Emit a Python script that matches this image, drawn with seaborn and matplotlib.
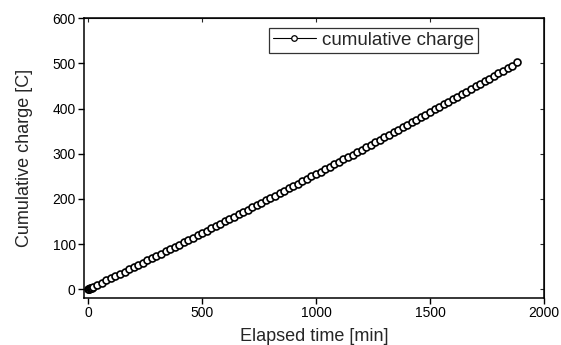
import matplotlib
matplotlib.use("Agg")
import matplotlib.pyplot as plt
import seaborn as sns
import pandas as pd

elapsed_min = [0, 2, 5, 8, 12, 15,
               20, 40, 60, 80, 100, 120, 140, 160, 180, 200,
               220, 240, 260, 280, 300, 320, 340, 360, 380, 400,
               420, 440, 460, 480, 500, 520, 540, 560, 580, 600,
               620, 640, 660, 680, 700, 720, 740, 760, 780, 800,
               820, 840, 860, 880, 900, 920, 940, 960, 980, 1000,
               1020, 1040, 1060, 1080, 1100, 1120, 1140, 1160, 1180, 1200,
               1220, 1240, 1260, 1280, 1300, 1320, 1340, 1360, 1380, 1400,
               1420, 1440, 1460, 1480, 1500, 1520, 1540, 1560, 1580, 1600,
               1620, 1640, 1660, 1680, 1700, 1720, 1740, 1760, 1780, 1800,
               1820, 1840, 1860, 1880]
cumulative_charge = [0.0, 0.3, 1.0, 1.8, 2.8, 3.5,
                     4.8, 9.7, 14.6, 19.4, 24.3, 29.2, 34.1, 39.0, 44.0, 48.9,
                     53.9, 58.8, 63.8, 68.8, 73.8, 78.8, 83.8, 88.8, 93.8, 98.9,
                     103.9, 109.0, 114.0, 119.1, 124.2, 129.3, 134.5, 139.6, 144.7, 149.9,
                     155.0, 160.2, 165.4, 170.6, 175.8, 181.0, 186.2, 191.4, 196.7, 201.9,
                     207.2, 212.4, 217.7, 223.0, 228.3, 233.6, 239.0, 244.3, 249.7, 255.0,
                     260.4, 265.8, 271.1, 276.5, 282.0, 287.4, 292.8, 298.2, 303.7, 309.2,
                     314.6, 320.1, 325.6, 331.1, 336.6, 342.2, 347.7, 353.2, 358.8, 364.4,
                     369.9, 375.5, 381.1, 386.7, 392.3, 398.0, 403.6, 409.3, 414.9, 420.6,
                     426.3, 432.0, 437.7, 443.4, 449.1, 454.9, 460.6, 466.4, 472.1, 477.9,
                     483.7, 489.5, 495.3, 502.5]

x_ticks = [0, 500, 1000, 1500, 2000]
y_ticks = [0, 100, 200, 300, 400, 500, 600]
series_name = "cumulative charge"

df = pd.DataFrame({"t": elapsed_min, "q": cumulative_charge, "s": series_name})

sns.set_style("ticks")
plt.rcParams["font.family"] = ["Liberation Sans", "DejaVu Sans"]

fig = plt.figure(figsize=(5.61, 3.45), dpi=100)
ax = fig.add_axes([0.1497, 0.137, 0.8200, 0.810])

sns.lineplot(data=df, x="t", y="q", hue="s", palette=["black"], ax=ax,
             marker="o", markersize=5, markerfacecolor="white",
             markeredgecolor="black", markeredgewidth=1.2, linewidth=0.8)

ax.set_xlim(-18, 2000)
ax.set_ylim(-19, 600)
ax.set_xticks(x_ticks)
ax.set_yticks(y_ticks)
ax.tick_params(axis="both", which="major", labelsize=10, direction="out",
               length=4, width=1, colors="black", pad=2)
for spine in ax.spines.values():
    spine.set_visible(True)
    spine.set_linewidth(1.1)
    spine.set_color("black")
sec_x = ax.secondary_xaxis("top")
sec_x.set_xticks(x_ticks)
sec_x.tick_params(direction="in", length=3, labeltop=False)
sec_y = ax.secondary_yaxis("right")
sec_y.set_yticks(y_ticks)
sec_y.tick_params(direction="in", length=3, labelright=False)

ax.set_xlabel("Elapsed time [min]", fontsize=13, labelpad=6)
ax.set_ylabel("Cumulative charge [C]", fontsize=13, labelpad=14)

leg = ax.legend(loc="upper left", bbox_to_anchor=(0.39, 0.985), frameon=True,
                fancybox=False, edgecolor="black", fontsize=13.5,
                handlelength=2.3, handletextpad=0.35, borderpad=0.2,
                borderaxespad=0.3)
leg.get_frame().set_linewidth(0.9)
for h in leg.legend_handles:
    h.set_markersize(4)
    h.set_markeredgewidth(0.9)

fig.savefig("out.png", dpi=100)
